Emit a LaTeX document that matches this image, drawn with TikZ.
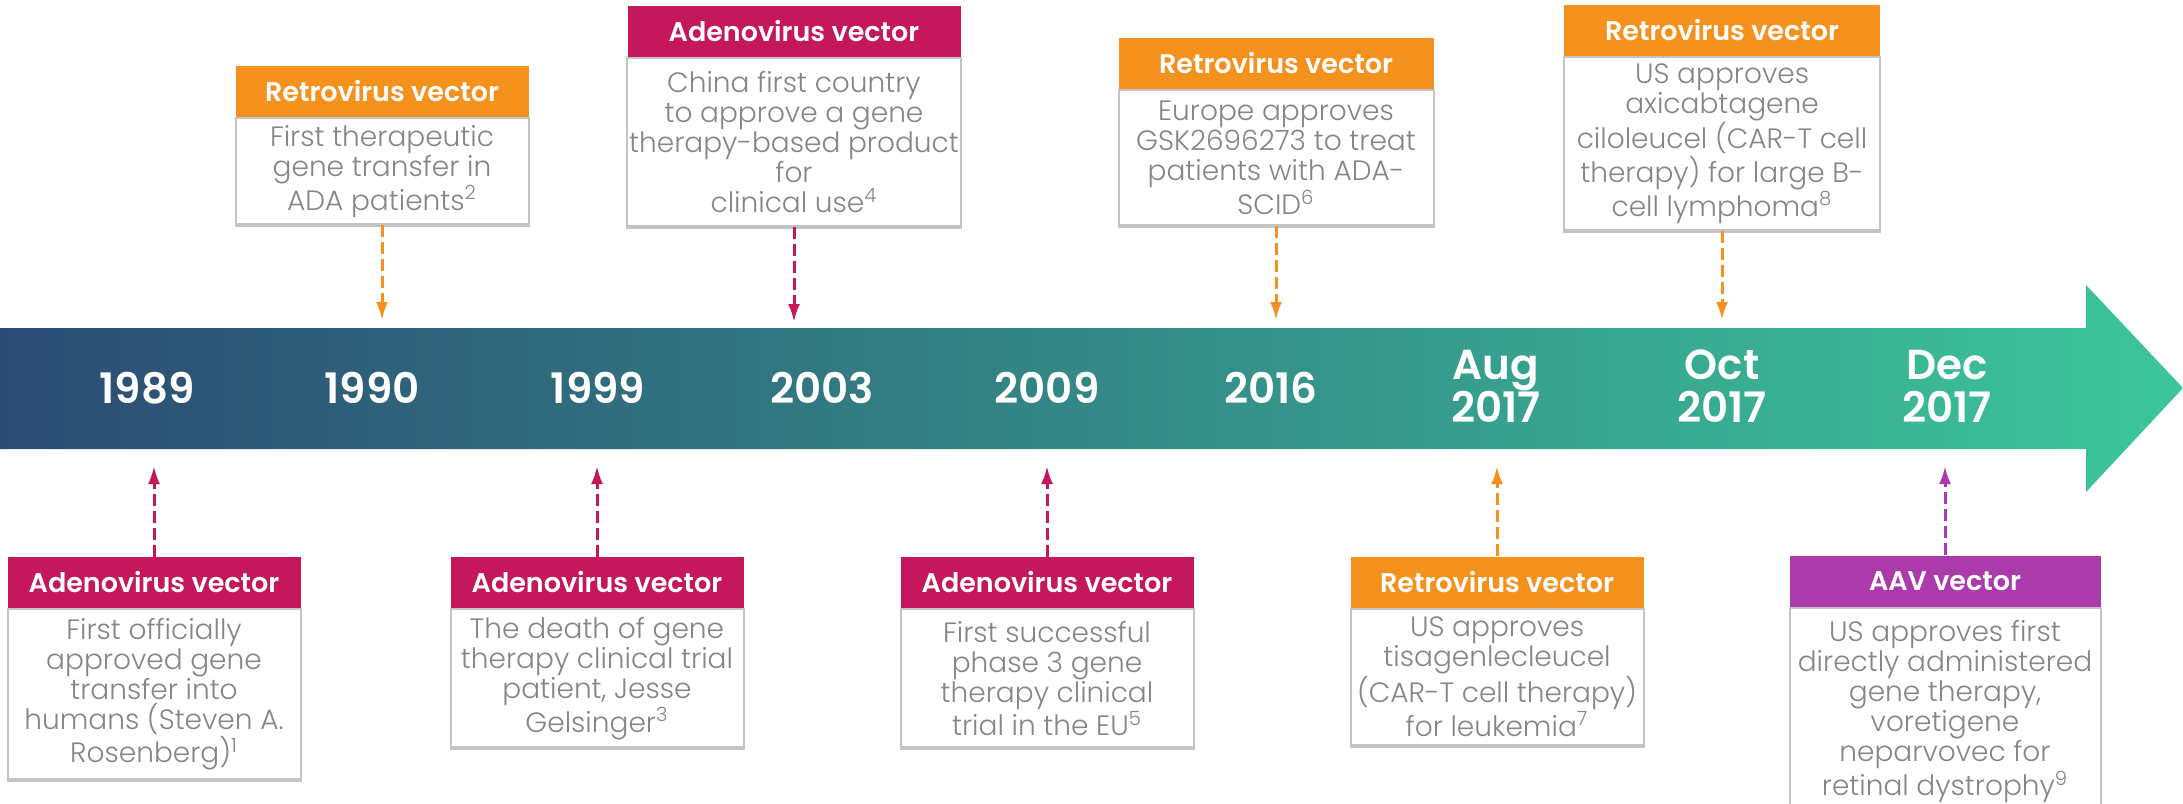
\documentclass[tikz,border=0pt]{standalone}
\usepackage{fontspec}
\setmainfont{Poppins}
\newfontfamily\lightfont{Poppins Light}
\newfontfamily\semifont{Poppins SemiBold}
\usepackage{xcolor}
\usetikzlibrary{arrows.meta,positioning}

\definecolor{retro}{HTML}{F5921E}
\definecolor{adeno}{HTML}{C5175B}
\definecolor{aav}{HTML}{AB3BAB}
\definecolor{bandleft}{HTML}{2B4B73}
\definecolor{bandright}{HTML}{3CC69A}
\definecolor{boxgray}{HTML}{C4C4C4}
\definecolor{notegray}{HTML}{868686}

\begin{document}
\begin{tikzpicture}[
    x=0.5pt, y=-0.5pt,
    header/.style={rectangle, fill=#1, text=white, font=\fontsize{13.5}{15}\selectfont\semifont, minimum width=146.5pt, minimum height=25.5pt, inner sep=0pt},
    note/.style={rectangle, draw=boxgray, line width=1pt, fill=white, text=notegray, font=\fontsize{14}{15}\selectfont\lightfont, align=center, minimum width=146.5pt, inner xsep=1pt, inner ysep=3pt, below=0pt of #1},
    year/.style={text=white, font=\fontsize{21}{21.5}\selectfont\semifont, align=center},
    link/.style={#1, line width=1.5pt, dash pattern=on 6pt off 2.5pt, -{Latex[length=9pt,width=6pt]}}
]
\useasboundingbox (0,0) rectangle (2183,803);

% timeline band
\shade[left color=bandleft, right color=bandright] (0,328) -- (2086,328) -- (2086,285) -- (2183,388) -- (2086,492) -- (2086,449) -- (0,449) -- cycle;

\node[year] (y1989) at (147,388) {1989};
\node[year] (y1990) at (372,388) {1990};
\node[year] (y1999) at (598,388) {1999};
\node[year] (y2003) at (822,388) {2003};
\node[year] (y2009) at (1047,388) {2009};
\node[year] (y2016) at (1271,388) {2016};
\node[year] (yAug) at (1496,386) {Aug\\2017};
\node[year] (yOct) at (1722,386) {Oct\\2017};
\node[year] (yDec) at (1947,386) {Dec\\2017};

% events above the band
\node[header=retro] (h1990) at (382,91.5) {Retrovirus vector};
\node[note=h1990, minimum height=53pt] (b1990) {First therapeutic\\gene transfer in\\ADA patients\textsuperscript{2}};

\node[header=adeno, minimum width=166.5pt] (h2003) at (794,31.5) {Adenovirus vector};
\node[note=h2003, minimum width=166.5pt, minimum height=84pt] (b2003) {China first country\\to approve a gene\\therapy-based product\\for\\clinical use\textsuperscript{4}};

\node[header=retro, minimum width=157.5pt] (h2016) at (1276,63.5) {Retrovirus vector};
\node[note=h2016, minimum width=157.5pt, minimum height=67.5pt] (b2016) {Europe approves\\GSK2696273 to treat\\patients with ADA-\\SCID\textsuperscript{6}};

\node[header=retro, minimum width=158pt] (hOct) at (1722,30.5) {Retrovirus vector};
\node[note=hOct, minimum width=158pt, minimum height=84.5pt] (bOct) {US approves\\axicabtagene\\ciloleucel (CAR-T cell\\therapy) for large B-\\cell lymphoma\textsuperscript{8}};

% events below the band
\node[header=adeno] (h1989) at (154,582.5) {Adenovirus vector};
\node[note=h1989, minimum height=85pt] (b1989) {First officially\\approved gene\\transfer into\\humans (Steven A.\\Rosenberg)\textsuperscript{1}};

\node[header=adeno] (h1999) at (597,582.5) {Adenovirus vector};
\node[note=h1999, minimum height=69pt] (b1999) {The death of gene\\therapy clinical trial\\patient, Jesse\\Gelsinger\textsuperscript{3}};

\node[header=adeno] (h2009) at (1047,582.5) {Adenovirus vector};
\node[note=h2009, minimum height=69pt] (b2009) {First successful\\phase 3 gene\\therapy clinical\\trial in the EU\textsuperscript{5}};

\node[header=retro] (hAug) at (1497,582) {Retrovirus vector};
\node[note=hAug, minimum height=68pt] (bAug) {US approves\\tisagenlecleucel\\(CAR-T cell therapy)\\for leukemia\textsuperscript{7}};

\node[header=aav, minimum width=155.5pt] (hDec) at (1945,581) {AAV vector};
\node[note=hDec, minimum width=155.5pt, minimum height=104pt] (bDec) {US approves first\\directly administered\\gene therapy,\\voretigene\\neparvovec for\\retinal dystrophy\textsuperscript{9}};

% heavier bottom edge
\foreach \n in {b1990,b2003,b2016,bOct,b1989,b1999,b2009,bAug,bDec}
    \draw[boxgray, line width=2pt] (\n.south west) -- (\n.south east);

% pointers to the band
\coordinate (t1990) at (382,320);
\coordinate (t2003) at (794,322);
\coordinate (t2016) at (1276,320);
\coordinate (tOct) at (1722,320);
\coordinate (t1989) at (154,466);
\coordinate (t1999) at (597,466);
\coordinate (t2009) at (1047,466);
\coordinate (tAug) at (1497,466);
\coordinate (tDec) at (1945,466);

\draw[link=retro] (b1990) -- (t1990);
\draw[link=adeno] (b2003) -- (t2003);
\draw[link=retro] (b2016) -- (t2016);
\draw[link=retro] (bOct) -- (tOct);
\draw[link=adeno] (h1989) -- (t1989);
\draw[link=adeno] (h1999) -- (t1999);
\draw[link=adeno] (h2009) -- (t2009);
\draw[link=retro] (hAug) -- (tAug);
\draw[link=aav] (hDec) -- (tDec);

\end{tikzpicture}
\end{document}
